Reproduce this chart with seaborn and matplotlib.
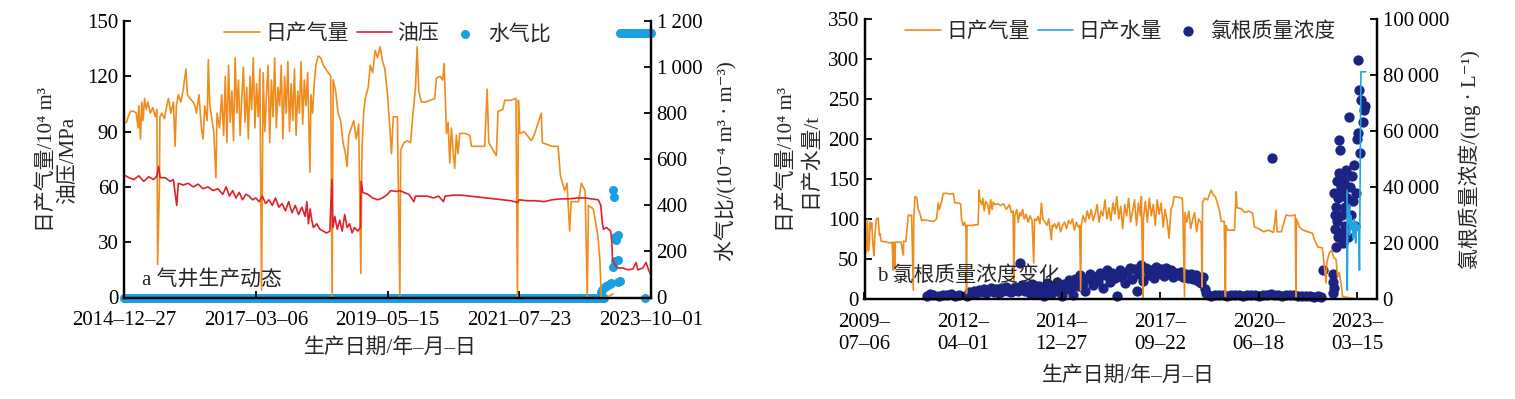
import numpy as np
import pandas as pd
import matplotlib
matplotlib.use('Agg')
import matplotlib.pyplot as plt
from matplotlib.ticker import FuncFormatter
import seaborn as sns

# ==========================================
# DATA (day offset, value)
# ==========================================
a_start = pd.Timestamp('2014-12-27')
a_end = pd.Timestamp('2023-10-01')
a_ticks = ['2014-12-27', '2017-03-06', '2019-05-15', '2021-07-23', '2023-10-01']

# panel a: daily gas (10^4 m3)
a_gas = [
    (0, 95), (15, 95), (25, 98), (40, 101), (60, 101), (75, 100), (85, 92), (90, 104), (100, 86),
    (108, 106), (115, 96), (125, 108), (135, 102), (145, 106), (160, 100), (175, 103), (190, 98),
    (200, 102), (204, 18), (210, 40), (215, 60), (218, 98), (230, 100), (245, 97), (260, 104),
    (270, 108), (285, 100), (300, 106), (310, 82), (318, 104), (330, 110), (345, 106), (360, 113),
    (376, 124), (385, 110), (400, 108), (420, 106), (431, 104), (440, 100), (455, 110), (470, 92),
    (480, 86), (490, 104), (505, 96), (512, 129), (520, 105), (535, 96), (545, 90), (558, 65),
    (565, 100), (580, 92), (593, 110), (605, 88), (615, 120), (625, 84), (635, 126), (645, 95),
    (655, 112), (665, 85), (675, 130), (685, 100), (695, 118), (705, 88), (715, 108), (725, 125),
    (735, 95), (745, 114), (755, 86), (765, 120), (775, 102), (785, 130), (795, 92), (805, 116),
    (815, 98), (825, 124), (835, 4), (840, 60), (845, 122), (855, 90), (865, 110), (875, 126),
    (885, 84), (895, 118), (905, 98), (915, 130), (925, 92), (935, 114), (945, 104), (955, 126),
    (965, 86), (975, 120), (985, 100), (995, 128), (1005, 90), (1015, 116), (1025, 96), (1035, 124),
    (1045, 88), (1055, 112), (1065, 100), (1075, 128), (1085, 94), (1095, 118), (1105, 104),
    (1115, 122), (1129, 68), (1135, 110), (1145, 100), (1155, 116), (1165, 126), (1179, 131),
    (1195, 130), (1210, 126), (1225, 124), (1240, 122), (1255, 120), (1264, 0), (1270, 118),
    (1285, 112), (1300, 100), (1315, 96), (1330, 84), (1345, 78), (1355, 71), (1365, 88), (1380, 92),
    (1395, 96), (1410, 86), (1425, 94), (1438, 13), (1445, 80), (1455, 100), (1465, 108), (1483, 114),
    (1495, 126), (1510, 122), (1525, 134), (1540, 130), (1555, 136), (1570, 128), (1584, 124),
    (1600, 110), (1612, 95), (1624, 78), (1635, 98), (1660, 98), (1675, 0), (1680, 80), (1700, 84),
    (1720, 85), (1740, 84), (1755, 100), (1770, 114), (1780, 136), (1790, 112), (1806, 106),
    (1830, 106), (1860, 107), (1887, 108), (1897, 119), (1920, 120), (1935, 118), (1944, 127),
    (1950, 110), (1958, 89), (1968, 95), (1978, 73), (1988, 92), (1998, 80), (2008, 70), (2018, 88),
    (2028, 78), (2039, 89), (2070, 89), (2100, 88), (2110, 82), (2150, 82), (2190, 82), (2205, 113),
    (2215, 84), (2240, 80), (2261, 77), (2271, 101), (2300, 102), (2312, 107), (2350, 107),
    (2380, 108), (2389, 0), (2395, 107), (2403, 89), (2430, 90), (2474, 85), (2490, 88), (2534, 100),
    (2540, 84), (2600, 82), (2636, 82), (2650, 66), (2676, 58), (2690, 62), (2706, 36), (2715, 52),
    (2760, 52), (2777, 62), (2800, 58), (2813, 0), (2820, 50), (2850, 48), (2878, 33), (2890, 20),
    (2898, 0), (2930, 0), (2970, 2),
]

# panel a: tubing pressure (MPa)
a_pres = [
    (0, 66.5), (30, 65), (60, 64), (90, 66), (120, 63), (150, 65.5), (180, 64), (200, 66), (210, 71),
    (220, 65), (250, 65), (280, 63), (300, 64), (320, 50), (330, 62), (360, 61), (390, 62), (420, 60),
    (450, 61.5), (480, 59), (510, 60), (540, 58), (570, 59), (600, 56), (620, 60), (640, 55), (660, 58),
    (680, 54), (700, 57), (720, 53), (740, 56), (760, 55), (780, 53), (800, 54), (820, 52), (840, 55),
    (860, 51), (880, 53), (900, 50), (920, 54), (940, 49), (960, 51), (980, 47), (1000, 52), (1020, 46),
    (1040, 50), (1060, 45), (1080, 49), (1100, 44), (1110, 52), (1120, 40), (1130, 48), (1140, 42),
    (1150, 38), (1170, 40), (1190, 37), (1210, 36), (1230, 35), (1250, 36), (1262, 64), (1268, 38),
    (1280, 44), (1295, 37), (1310, 42), (1325, 36), (1340, 45), (1355, 38), (1370, 40), (1385, 35),
    (1400, 38), (1420, 36), (1435, 38), (1440, 63), (1450, 57), (1480, 56), (1510, 54), (1540, 53),
    (1570, 54), (1600, 56), (1620, 58), (1660, 57.5), (1675, 58), (1700, 57), (1730, 56), (1760, 52),
    (1770, 55), (1800, 55), (1840, 55), (1880, 54), (1910, 55), (1940, 52), (1950, 55), (2000, 55.5),
    (2050, 55.5), (2100, 55), (2150, 54.5), (2200, 54), (2250, 53.5), (2300, 53), (2350, 52.5),
    (2390, 51.5), (2400, 53), (2450, 52.5), (2500, 52.5), (2550, 52), (2600, 53), (2650, 53.5),
    (2700, 53.5), (2750, 54), (2800, 54), (2840, 53.5), (2880, 53), (2895, 50), (2905, 40), (2912, 37),
    (2930, 38), (2955, 36), (2962, 30), (2966, 21), (2980, 18), (3000, 16), (3030, 16), (3060, 15),
    (3090, 15.5), (3110, 19), (3120, 15), (3150, 16), (3170, 19), (3185, 15), (3196, 13),
]

# panel a: water-gas ratio (10^-4 m3/m3)
a_wgr_zero = ('2014-12-27', '2022-12-26')      # readings at 0 over this span
a_wgr_top = ('2023-03-27', '2023-10-01', 1147)  # readings at the top over this span
a_wgr = [
    (2898, 25), (2905, 33), (2919, 47), (2929, 50), (2939, 54), (2949, 58), (2959, 62),
    (2969, 467), (2975, 438), (2969, 134), (2979, 264), (2989, 250), (2999, 271),
    (2979, 160), (2999, 163), (2999, 69), (3010, 72), (3161, 0),
]

b_start = pd.Timestamp('2009-07-06')
b_end = pd.Timestamp('2023-10-01')
b_ticks = ['2009-07-06', '2012-04-01', '2014-12-27', '2017-09-22', '2020-06-18', '2023-03-15']

# panel b: daily gas (10^4 m3)
b_gas = [
    (5, 80), (15, 58), (22, 62), (30, 99), (40, 60), (50, 72), (56, 96), (65, 88), (73, 95), (85, 70),
    (95, 54), (106, 80), (120, 100), (140, 101), (150, 80), (157, 82), (170, 72), (191, 72), (230, 71),
    (260, 70), (280, 71), (292, 36), (296, 71), (309, 38), (312, 71), (340, 71), (370, 71), (393, 55),
    (397, 72), (420, 72), (444, 105), (460, 104), (478, 105), (495, 11), (500, 100), (512, 128),
    (530, 127), (545, 112), (562, 107), (580, 98), (596, 99), (650, 98), (700, 97), (731, 100),
    (748, 120), (760, 112), (782, 122), (799, 132), (840, 132), (870, 131), (900, 132), (917, 120),
    (950, 120), (975, 119), (984, 100), (1000, 92), (1015, 96), (1030, 88), (1035, 7), (1040, 92),
    (1090, 92), (1140, 93), (1153, 93), (1163, 136), (1170, 124), (1190, 118), (1200, 126), (1215, 110),
    (1230, 122), (1250, 118), (1265, 106), (1280, 124), (1295, 112), (1305, 121), (1322, 118),
    (1350, 119), (1380, 117), (1410, 119), (1440, 112), (1470, 118), (1490, 108), (1508, 110),
    (1515, 20), (1525, 104), (1545, 112), (1560, 96), (1575, 108), (1590, 104), (1605, 112), (1620, 100),
    (1640, 106), (1660, 96), (1680, 104), (1700, 98), (1717, 45), (1725, 100), (1744, 98), (1760, 103),
    (1780, 94), (1795, 120), (1810, 100), (1830, 96), (1850, 92), (1870, 100), (1896, 74), (1905, 92),
    (1913, 90), (1930, 94), (1947, 88), (1970, 96), (1990, 84), (2010, 92), (2030, 96), (2050, 88),
    (2070, 98), (2090, 94), (2110, 100), (2130, 86), (2150, 96), (2170, 90), (2183, 92), (2193, 11),
    (2200, 92), (2217, 104), (2240, 96), (2260, 110), (2280, 100), (2300, 112), (2320, 98), (2340, 106),
    (2360, 118), (2380, 96), (2400, 110), (2420, 104), (2440, 124), (2460, 100), (2480, 114), (2500, 98),
    (2520, 120), (2540, 106), (2560, 128), (2580, 100), (2600, 116), (2620, 88), (2640, 118), (2660, 104),
    (2680, 126), (2700, 96), (2720, 110), (2740, 124), (2760, 92), (2780, 120), (2800, 104), (2810, 128),
    (2825, 2), (2830, 100), (2850, 122), (2870, 96), (2890, 126), (2910, 104), (2930, 118), (2950, 92),
    (2970, 124), (2990, 106), (3010, 120), (3030, 90), (3050, 112), (3070, 98), (3090, 76), (3110, 112),
    (3129, 118), (3140, 128), (3190, 127), (3225, 126), (3230, 110), (3247, 3), (3252, 108), (3270, 96),
    (3290, 110), (3310, 88), (3330, 100), (3350, 108), (3370, 84), (3390, 100), (3416, 95), (3426, 15),
    (3430, 120), (3450, 126), (3480, 124), (3517, 136), (3540, 130), (3560, 128), (3580, 120),
    (3602, 110), (3619, 97), (3650, 97), (3662, 3), (3667, 92), (3686, 86), (3720, 86), (3754, 86),
    (3771, 134), (3780, 114), (3820, 113), (3860, 108), (3900, 110), (3939, 107), (3956, 90), (4000, 88),
    (4050, 84), (4100, 86), (4150, 83), (4176, 111), (4185, 84), (4230, 84), (4277, 105), (4320, 104),
    (4370, 105), (4378, 3), (4383, 100), (4412, 90), (4450, 86), (4500, 84), (4547, 82), (4565, 74),
    (4600, 65), (4645, 64), (4683, 20), (4690, 45), (4717, 58), (4740, 61), (4760, 52), (4785, 49),
    (4800, 28), (4818, 33), (4840, 15), (4851, 3), (4900, 2), (4950, 1),
]

# panel b: daily water (t)
b_water = [
    (4896, 136), (4898, 11), (4905, 110), (4912, 95), (4920, 118), (4928, 80), (4936, 104), (4944, 88),
    (4952, 96), (4960, 75), (4968, 100), (4976, 88), (4984, 70), (4992, 96), (5000, 86), (5008, 92),
    (5015, 90), (5022, 36), (5037, 284), (5087, 284),
]

# panel b: chloride concentration (mg/L)
b_cl = [
    (630, 1200), (660, 1800), (700, 1500), (760, 900), (800, 1600), (840, 1400), (880, 1800), (920, 1200),
    (960, 1500), (1035, 1000), (1060, 2400), (1085, 1800), (1110, 2800), (1135, 2000), (1160, 3200),
    (1185, 2400), (1210, 3600), (1235, 2200), (1260, 3000), (1285, 4000), (1310, 2600), (1335, 3400),
    (1360, 2000), (1385, 3800), (1410, 2800), (1435, 4200), (1460, 3000), (1485, 2400), (1508, 3600),
    (1530, 4400), (1555, 2800), (1582, 12700), (1600, 5000), (1625, 3000), (1650, 4600), (1675, 2200),
    (1700, 5400), (1725, 3400), (1750, 1800), (1775, 4800), (1800, 3000), (1825, 1200), (1850, 5600),
    (1875, 3800), (1900, 2200), (1925, 4400), (1950, 6200), (1975, 2800), (2000, 1200), (2025, 5200),
    (2050, 3400), (2075, 6800), (2100, 4200), (2116, 1500), (2140, 7200), (2165, 4600), (2190, 8400),
    (2215, 5800), (2240, 3000), (2265, 7600), (2290, 9000), (2315, 5000), (2340, 8000), (2365, 6400),
    (2390, 9400), (2415, 4000), (2440, 8600), (2465, 10200), (2490, 6000), (2515, 9200), (2540, 7400),
    (2565, 1000), (2590, 10400), (2615, 8000), (2640, 5600), (2665, 9800), (2690, 11000), (2715, 7000),
    (2740, 10600), (2765, 3000), (2790, 9000), (2810, 12100), (2825, 6400), (2860, 11000), (2885, 8600),
    (2910, 10400), (2935, 7400), (2960, 11500), (2985, 9400), (3010, 10800), (3035, 8200), (3060, 11200),
    (3085, 9600), (3110, 10400), (3135, 7800), (3160, 9400), (3185, 8600), (3210, 9800), (3235, 8000),
    (3260, 9000), (3285, 7600), (3310, 8800), (3335, 7000), (3360, 8400), (3385, 6600), (3410, 5800),
    (3433, 8000), (3450, 3600), (3470, 2200), (3490, 1400), (3520, 1200), (3560, 1500), (3600, 1300),
    (3640, 1400), (3680, 1200), (3720, 1500), (3760, 1300), (3800, 1400), (3840, 1200), (3880, 1600),
    (3920, 1300), (3960, 1400), (4000, 1200), (4040, 1500), (4080, 1300), (4120, 1800), (4135, 50200),
    (4160, 1300), (4200, 1500), (4240, 1200), (4280, 1400), (4320, 1300), (4360, 1500), (4400, 1200),
    (4440, 1000), (4480, 900), (4520, 1000), (4560, 800), (4600, 900), (4630, 700), (4648, 10400),
    (4750, 9000), (4752, 6000), (4755, 2000), (4760, 4000), (4765, 37700), (4770, 30000), (4775, 25000),
    (4780, 18700), (4785, 33000), (4790, 42000), (4795, 28000), (4800, 36000), (4805, 22000),
    (4810, 45000), (4817, 56800), (4825, 53200), (4830, 40000), (4840, 44000), (4845, 30000),
    (4850, 24000), (4855, 38000), (4860, 20000), (4870, 42000), (4875, 33000), (4880, 26000),
    (4890, 46000), (4900, 36000), (4910, 22000), (4919, 65100), (4925, 40000), (4935, 30000),
    (4945, 44000), (4955, 35000), (4965, 48000), (4975, 26000), (4985, 38000), (4995, 57000),
    (5003, 85400), (5010, 59200), (5020, 74600), (5030, 52000), (5040, 71000), (5054, 63300),
    (5065, 67500), (5080, 69000),
]

# ==========================================
# STYLE
# ==========================================
sns.set_theme(style='ticks')
plt.rcParams['font.family'] = ['Liberation Serif', 'Noto Sans CJK SC', 'DejaVu Sans']
plt.rcParams['axes.unicode_minus'] = False
plt.rcParams['axes.linewidth'] = 1.6
plt.rcParams['axes.edgecolor'] = 'black'

FS = 15
c_gas = '#F08C1E'
c_pres = '#E0202A'
c_wgr = '#1AA0E0'
c_water = '#22A6E0'
c_cl = '#1B2483'


def to_df(pairs, start, col):
    df = pd.DataFrame(pairs, columns=['day', col])
    df['date'] = start + pd.to_timedelta(df['day'], unit='D')
    return df


def style_axes(ax, ax2):
    for a in (ax, ax2):
        a.spines['top'].set_visible(False)
        a.tick_params(direction='in', length=5, width=1.3, labelsize=FS, colors='black', pad=4)
    ax.set_zorder(ax2.get_zorder() + 1)
    ax.patch.set_visible(False)
    ax.set_xlabel('')
    ax.set_ylabel('')
    ax2.set_ylabel('')
    for a in (ax, ax2):
        if a.get_legend():
            a.get_legend().remove()


def thousands(v, pos):
    return f'{int(v):,}'.replace(',', '\u2009')


fig = plt.figure(figsize=(15.15, 3.99), dpi=100)
W, H = 1515, 399

# ==========================================
# PANEL A
# ==========================================
ax = fig.add_axes([124 / W, 1 - 297.5 / H, 527 / W, 276.5 / H])
ax2 = ax.twinx()

gas_a = to_df(a_gas, a_start, 'v')
pres_a = to_df(a_pres, a_start, 'v')
wgr_a = to_df(a_wgr, a_start, 'v')
zero_dates = pd.date_range(a_wgr_zero[0], a_wgr_zero[1], freq='6D')
top_dates = pd.date_range(a_wgr_top[0], a_wgr_top[1], freq='3D')
wgr_all = pd.concat([
    pd.DataFrame({'date': zero_dates, 'v': 0.0}),
    pd.DataFrame({'date': top_dates, 'v': float(a_wgr_top[2])}),
    wgr_a[['date', 'v']],
])

sns.lineplot(data=gas_a, x='date', y='v', ax=ax, color=c_gas, lw=1.2, label='日产气量', estimator=None)
sns.lineplot(data=pres_a, x='date', y='v', ax=ax, color=c_pres, lw=1.2, label='油压', estimator=None)
sns.scatterplot(data=wgr_all, x='date', y='v', ax=ax2, color=c_wgr, s=42, linewidth=0,
                label='水气比', clip_on=False)

ax.set_xlim(a_start, a_end)
ax.set_ylim(0, 150)
ax.set_yticks(np.arange(0, 151, 30))
ax2.set_ylim(0, 1200)
ax2.set_yticks(np.arange(0, 1201, 200))
ax2.yaxis.set_major_formatter(FuncFormatter(thousands))
ax.set_xticks(pd.to_datetime(a_ticks))
ax.set_xticklabels([t.replace('-', '–') for t in a_ticks])
style_axes(ax, ax2)
ax.tick_params(axis='x', pad=10)

h1, l1 = ax.get_legend_handles_labels()
h2, l2 = ax2.get_legend_handles_labels()
ax.legend(h1 + h2, l1 + l2, loc='upper center', bbox_to_anchor=(0.5, 1.055), ncol=3, frameon=False,
          fontsize=FS, handlelength=1.7, handletextpad=0.25, columnspacing=0.4)
ax.text(0.034, 0.063, 'a 气井生产动态', transform=ax.transAxes, fontsize=FS, ha='left', va='center')

fig.text(47 / W, 1 - 160 / H, '日产气量/10⁴ m³', rotation=90, ha='center', va='center', fontsize=FS)
fig.text(68 / W, 1 - 160 / H, '油压/MPa', rotation=90, ha='center', va='center', fontsize=FS)
fig.text(726 / W, 1 - 161 / H, '水气比/(10⁻⁴ m³ · m⁻³)', rotation=90, ha='center',
         va='center', fontsize=FS)
fig.text(390 / W, 1 - 348 / H, '生产日期/年–月–日', ha='center', va='center', fontsize=FS)

# ==========================================
# PANEL B
# ==========================================
bx = fig.add_axes([864.5 / W, 1 - 299 / H, 512.5 / W, 280 / H])
bx2 = bx.twinx()

gas_b = to_df(b_gas, b_start, 'v')
water_b = to_df(b_water, b_start, 'v')
cl_b = to_df(b_cl, b_start, 'v')

sns.lineplot(data=gas_b, x='date', y='v', ax=bx, color=c_gas, lw=1.2, label='日产气量', estimator=None)
sns.lineplot(data=water_b, x='date', y='v', ax=bx, color=c_water, lw=1.2, label='日产水量', estimator=None)
sns.scatterplot(data=cl_b, x='date', y='v', ax=bx2, color=c_cl, s=55, linewidth=0,
                label='氯根质量浓度', clip_on=False)

bx.set_xlim(b_start, b_end)
bx.set_ylim(0, 350)
bx.set_yticks(np.arange(0, 351, 50))
bx2.set_ylim(0, 100000)
bx2.set_yticks(np.arange(0, 100001, 20000))
bx2.yaxis.set_major_formatter(FuncFormatter(thousands))
bx.set_xticks(pd.to_datetime(b_ticks))
bx.set_xticklabels([t[:4] + '–\n' + t[5:].replace('-', '–') for t in b_ticks], linespacing=1.25)
style_axes(bx, bx2)
bx.tick_params(axis='x', pad=10)

h1, l1 = bx.get_legend_handles_labels()
h2, l2 = bx2.get_legend_handles_labels()
bx.legend(h1 + h2, l1 + l2, loc='upper center', bbox_to_anchor=(0.5, 1.055), ncol=3, frameon=False,
          fontsize=FS, handlelength=1.7, handletextpad=0.25, columnspacing=0.4)
bx.text(0.024, 0.08, 'b 氯根质量浓度变化', transform=bx.transAxes, fontsize=FS, ha='left', va='center')

fig.text(787 / W, 1 - 160 / H, '日产气量/10⁴ m³', rotation=90, ha='center', va='center', fontsize=FS)
fig.text(811 / W, 1 - 160 / H, '日产水量/t', rotation=90, ha='center', va='center', fontsize=FS)
fig.text(1470 / W, 1 - 160 / H, '氯根质量浓度/(mg · L⁻¹)', rotation=90, ha='center', va='center',
         fontsize=FS)
fig.text(1128 / W, 1 - 376 / H, '生产日期/年–月–日', ha='center', va='center', fontsize=FS)

fig.savefig('out.png', dpi=100)
